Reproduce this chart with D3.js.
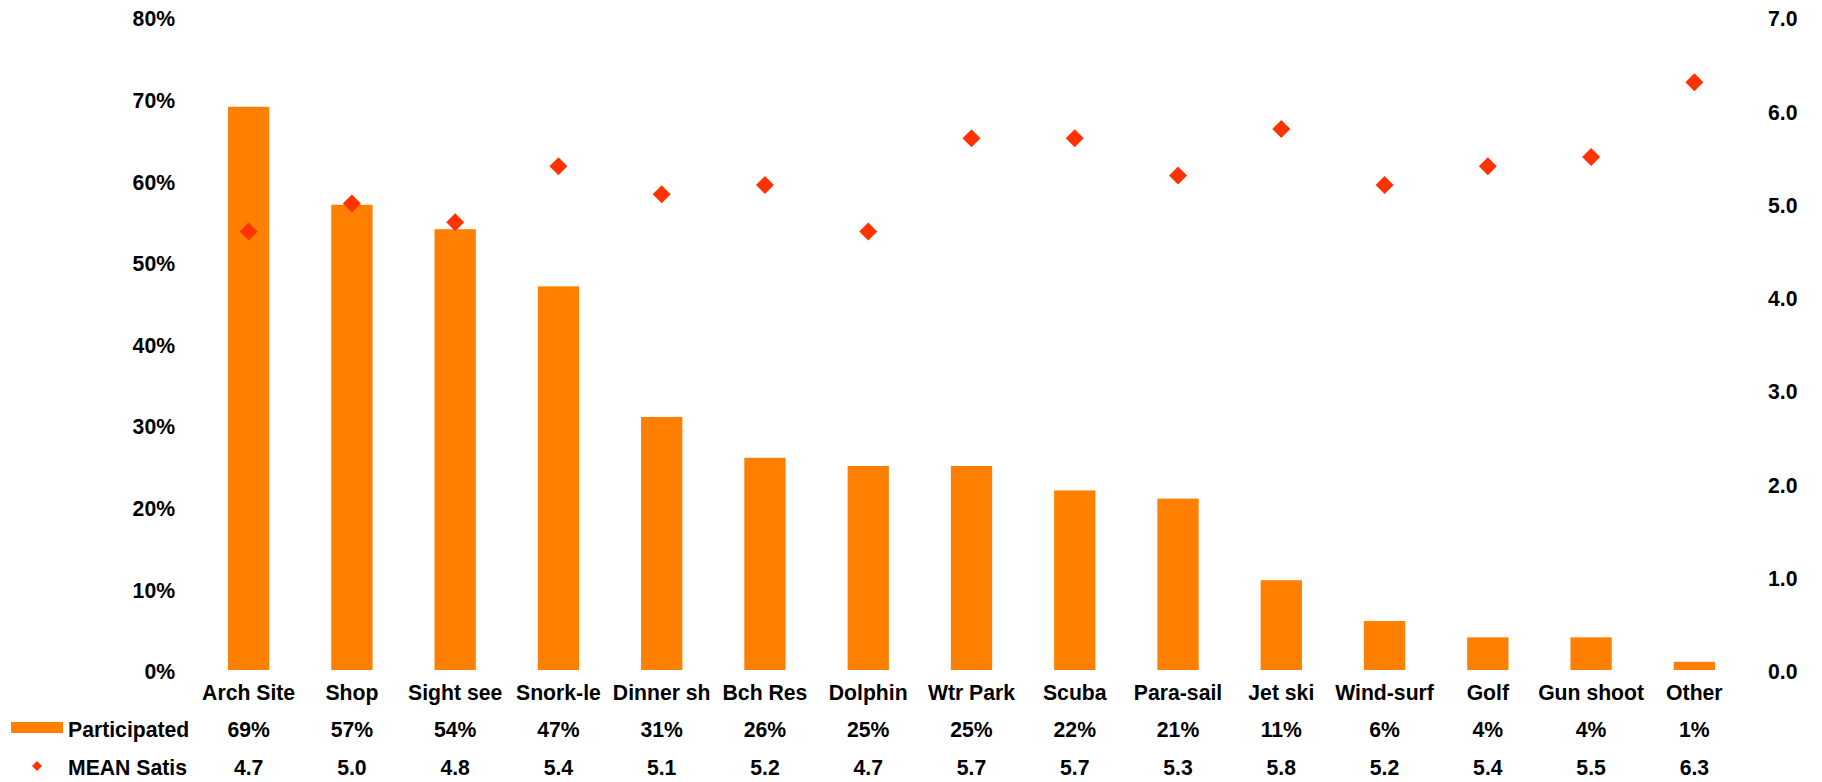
<!DOCTYPE html>
<html>
<head>
<meta charset="utf-8">
<script src="https://cdn.jsdelivr.net/npm/d3@7"></script>
<style>
  html, body { margin: 0; padding: 0; background: #fff; }
  svg text { font-family: "Liberation Sans", Arial, sans-serif; font-weight: bold; fill: #000; }
</style>
</head>
<body>
<svg id="chart" width="1822" height="782"></svg>
<script>
// Activities, share who participated, and mean satisfaction score
const categories = ["Arch Site", "Shop", "Sight see", "Snork-le", "Dinner sh", "Bch Res", "Dolphin", "Wtr Park", "Scuba", "Para-sail", "Jet ski", "Wind-surf", "Golf", "Gun shoot", "Other"];
const participated = [69, 57, 54, 47, 31, 26, 25, 25, 22, 21, 11, 6, 4, 4, 1];
const meanSatis = [4.7, 5.0, 4.8, 5.4, 5.1, 5.2, 4.7, 5.7, 5.7, 5.3, 5.8, 5.2, 5.4, 5.5, 6.3];
const leftTicks = [0, 10, 20, 30, 40, 50, 60, 70, 80];
const rightTicks = [0, 1, 2, 3, 4, 5, 6, 7];
const seriesNames = ["Participated", "MEAN Satis"];

const barColor = "#FF8000";
const dotColor = "#FF3300";

const svg = d3.select("#chart");

const x = d3.scaleBand().domain(categories).range([197, 1746]).paddingInner(0.6).paddingOuter(0.3);
const yL = d3.scaleLinear().domain([0, 80]).range([670, 17]);
const yR = d3.scaleLinear().domain([0, 7]).range([670, 17]);

const fontSize = 21.2;

// Left axis (percent)
const leftAxis = d3.axisLeft(yL).tickValues(leftTicks).tickFormat(d => d + "%").tickSize(0).tickPadding(0);
const gL = svg.append("g").attr("transform", "translate(175,2)").call(leftAxis);
gL.select(".domain").remove();
gL.selectAll("text").style("font-size", fontSize + "px").attr("fill", "#000");

// Right axis (mean score)
const rightAxis = d3.axisRight(yR).tickValues(rightTicks).tickFormat(d3.format(".1f")).tickSize(0).tickPadding(0);
const gR = svg.append("g").attr("transform", "translate(1768,2)").call(rightAxis);
gR.select(".domain").remove();
gR.selectAll("text").style("font-size", fontSize + "px").attr("fill", "#000");

// Bars
svg.append("g").selectAll("rect")
  .data(categories)
  .join("rect")
  .attr("x", d => x(d))
  .attr("width", x.bandwidth())
  .attr("y", (d, i) => yL(participated[i]))
  .attr("height", (d, i) => yL(0) - yL(participated[i]))
  .attr("fill", barColor);

// Diamond markers
const half = 9;
const diamond = `M0,${-half}L${half},0L0,${half}L${-half},0Z`;
svg.append("g").selectAll("path")
  .data(categories)
  .join("path")
  .attr("d", diamond)
  .attr("transform", (d, i) => `translate(${x(d) + x.bandwidth() / 2},${yR(meanSatis[i])})`)
  .attr("fill", dotColor);

// Category labels
svg.append("g").selectAll("text")
  .data(categories)
  .join("text")
  .attr("x", d => x(d) + x.bandwidth() / 2)
  .attr("y", 693)
  .attr("dy", "0.35em")
  .attr("text-anchor", "middle")
  .style("font-size", fontSize + "px")
  .text(d => d);

// Data table rows
const rowY = [730, 768];
svg.append("g").selectAll("text")
  .data(categories)
  .join("text")
  .attr("x", d => x(d) + x.bandwidth() / 2)
  .attr("y", rowY[0])
  .attr("dy", "0.35em")
  .attr("text-anchor", "middle")
  .style("font-size", fontSize + "px")
  .text((d, i) => participated[i] + "%");

svg.append("g").selectAll("text")
  .data(categories)
  .join("text")
  .attr("x", d => x(d) + x.bandwidth() / 2)
  .attr("y", rowY[1])
  .attr("dy", "0.35em")
  .attr("text-anchor", "middle")
  .style("font-size", fontSize + "px")
  .text((d, i) => d3.format(".1f")(meanSatis[i]));

// Legend keys
svg.append("rect").attr("x", 11).attr("y", 722).attr("width", 52).attr("height", 11).attr("fill", barColor);
const lh = 5;
svg.append("path")
  .attr("d", `M0,${-lh}L${lh},0L0,${lh}L${-lh},0Z`)
  .attr("transform", `translate(37,${rowY[1] - 2})`)
  .attr("fill", dotColor);
svg.append("g").selectAll("text")
  .data(seriesNames)
  .join("text")
  .attr("x", 68)
  .attr("y", (d, i) => rowY[i])
  .attr("dy", "0.35em")
  .style("font-size", fontSize + "px")
  .text(d => d);
</script>
</body>
</html>
